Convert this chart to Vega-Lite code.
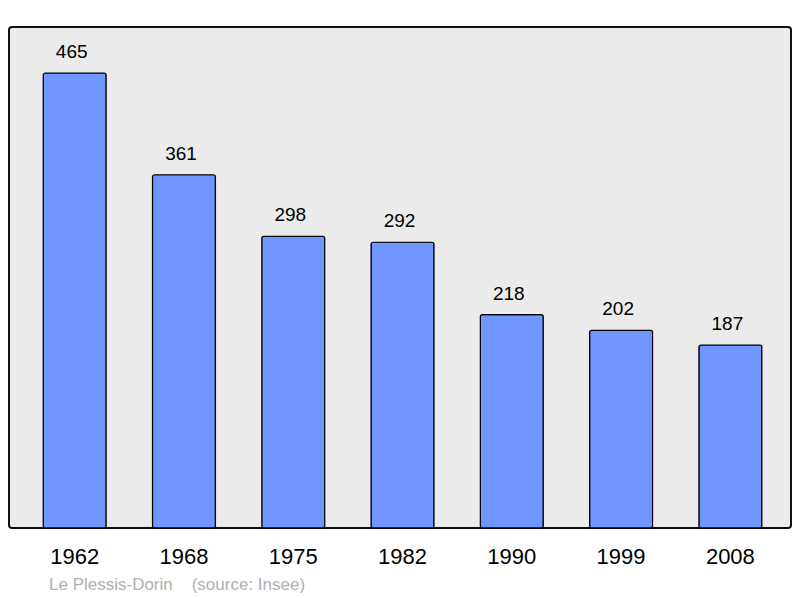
{
  "$schema": "https://vega.github.io/schema/vega-lite/v6.json",
  "width": 782,
  "height": 501,
  "autosize": "none",
  "padding": {"left": 9, "top": 27, "right": 9, "bottom": 70},
  "background": "white",
  "config": {
    "font": "Liberation Sans",
    "view": {"fill": "#ebebeb", "stroke": "#111111", "strokeWidth": 2, "cornerRadius": 3}
  },
  "title": {
    "text": "Le Plessis-Dorin\u00a0\u00a0\u00a0\u00a0(source: Insee)",
    "orient": "bottom",
    "anchor": "start",
    "dx": 40,
    "offset": 10,
    "fontSize": 17,
    "font": "Liberation Sans",
    "fontWeight": "normal",
    "color": "#b0b0b0"
  },
  "data": {
    "values": [
      {"year": "1962", "pop": 465},
      {"year": "1968", "pop": 361},
      {"year": "1975", "pop": 298},
      {"year": "1982", "pop": 292},
      {"year": "1990", "pop": 218},
      {"year": "1999", "pop": 202},
      {"year": "2008", "pop": 187}
    ]
  },
  "encoding": {
    "x": {
      "field": "year",
      "type": "nominal",
      "sort": null,
      "scale": {"paddingInner": 0.424, "paddingOuter": 0.29, "align": 0.54},
      "axis": {
        "title": null,
        "labelAngle": 0,
        "labelFontSize": 22,
        "labelColor": "#000000",
        "labelPadding": 18,
        "ticks": false,
        "domain": false,
        "grid": false
      }
    },
    "y": {
      "field": "pop",
      "type": "quantitative",
      "scale": {"domain": [0, 512], "nice": false},
      "axis": null
    }
  },
  "layer": [
    {
      "mark": {"type": "bar", "fill": "#7096ff", "stroke": "#000000", "strokeWidth": 1.2, "cornerRadius": 2}
    },
    {
      "mark": {"type": "text", "dy": -21, "dx": -3, "fontSize": 19, "color": "#000000"},
      "encoding": {"text": {"field": "pop", "type": "quantitative"}}
    }
  ]
}
